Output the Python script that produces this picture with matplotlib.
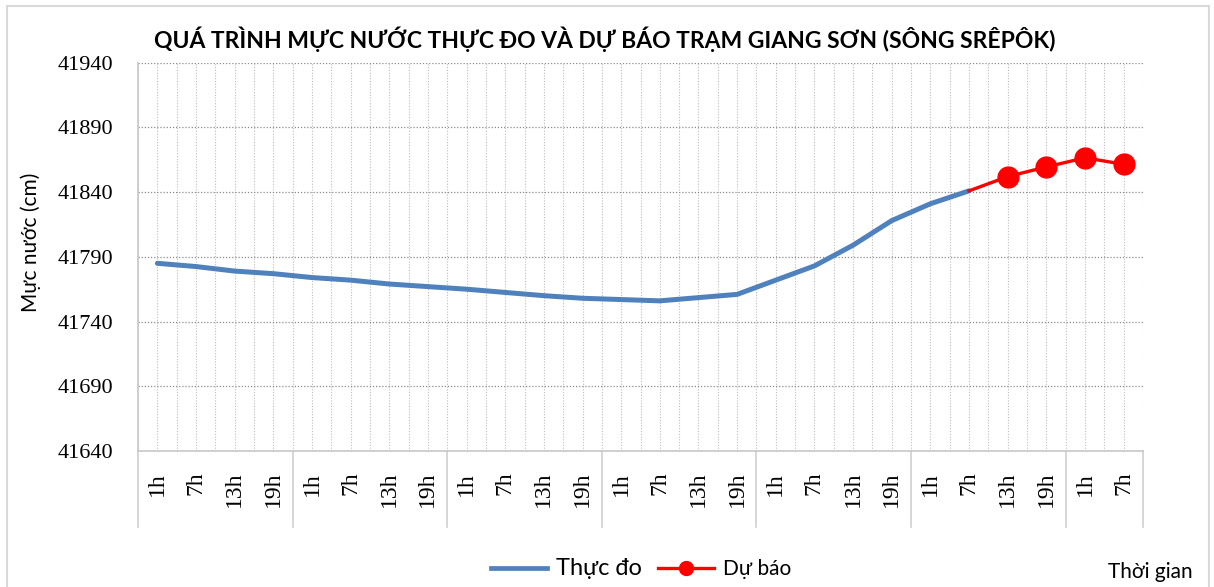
import numpy as np
import matplotlib
matplotlib.use("Agg")
import matplotlib.pyplot as plt
from matplotlib.lines import Line2D
from matplotlib.patches import Rectangle

# nhãn thời gian trên trục hoành (6 ngày + 2 mốc)
gio = ['1h', '7h', '13h', '19h'] * 6 + ['1h', '7h']

# mực nước thực đo (cm)
thuc_do = [41785, 41782.5, 41779, 41777, 41774, 41772, 41769, 41767,
           41765, 41762.5, 41760, 41758, 41757, 41756, 41758.5, 41761,
           41772, 41783, 41799, 41818, 41831, 41841]

# mực nước dự báo (bắt đầu từ điểm thực đo cuối)
du_bao = [41841, 41852, 41859.5, 41866.5, 41861.5]

y_ticks = [41640, 41690, 41740, 41790, 41840, 41890, 41940]

sans = ['Lato', 'DejaVu Sans']
serif = ['Liberation Serif', 'DejaVu Serif']

fig = plt.figure(figsize=(12.14, 5.87), dpi=100)
ax = fig.add_axes([0.1137, 0.2317, 0.8278, 0.6615])

x_td = np.arange(len(thuc_do))
x_db = np.arange(len(thuc_do) - 1, len(thuc_do) - 1 + len(du_bao))

ax.plot(x_td, thuc_do, color='#4F81BD', lw=3.6, solid_capstyle='round', zorder=3)
ax.plot(x_db, du_bao, color='#FF0000', lw=2.4, marker='o', ms=15,
        markevery=list(range(1, len(du_bao))), zorder=4)

ax.set_xlim(-0.5, len(gio) - 0.5)
ax.set_ylim(y_ticks[0], y_ticks[-1])
ax.set_yticks(y_ticks)
ax.set_yticklabels([str(v) for v in y_ticks], family=serif, fontsize=16)
ax.set_xticks(np.arange(len(gio)))
ax.set_xticks(np.arange(-0.5, len(gio)), minor=True)
ax.set_xticklabels(gio, rotation=90, family=serif, fontsize=17)
ax.tick_params(axis='both', which='both', length=0)
ax.tick_params(axis='x', pad=15)
ax.tick_params(axis='y', pad=18)

ax.grid(axis='y', ls=(0, (1, 1.5)), color='#8C8C8C', lw=0.9)
ax.grid(axis='x', which='both', ls=(0, (1, 1.5)), color='#BDBDBD', lw=0.8)
ax.set_axisbelow(True)

for s in ['top', 'right']:
    ax.spines[s].set_visible(False)
for s in ['left', 'bottom']:
    ax.spines[s].set_color('#C8C8C8')
    ax.spines[s].set_linewidth(1.2)

# vạch phân cách từng ngày dưới trục hoành
trans = ax.get_xaxis_transform()
for xs in [-0.5, 3.5, 7.5, 11.5, 15.5, 19.5, 23.5, 25.5]:
    ax.plot([xs, xs], [0, -0.195], transform=trans, color='#D0D0D0', lw=1.2, clip_on=False)

fig.text(0.4985, 0.933, 'QUÁ TRÌNH MỰC NƯỚC THỰC ĐO VÀ DỰ BÁO TRẠM GIANG SƠN (SÔNG SRÊPÔK)',
         ha='center', va='center', family=sans, fontsize=16.5, fontweight='bold')
fig.text(0.025, 0.588, 'Mực nước (cm)', rotation=90, ha='center', va='center',
         family=sans, fontsize=15)
fig.text(0.982, 0.026, 'Thời gian', ha='right', va='center', family=sans, fontsize=15)

handles = [Line2D([], [], color='#4F81BD', lw=3.4),
           Line2D([], [], color='#FF0000', lw=2.4, marker='o', ms=10)]
leg = fig.legend(handles, ['Thực đo', 'Dự báo'], loc='center', bbox_to_anchor=(0.528, 0.031),
                 ncol=2, frameon=False, handlelength=2.7, columnspacing=0.8, handletextpad=0.4,
                 prop={'family': sans, 'size': 15})
leg.get_texts()[0].set_fontsize(17)

fig.patches.append(Rectangle((0.006, -0.05), 0.99, 1.04, transform=fig.transFigure,
                             fill=False, edgecolor='#D9D9D9', lw=1.5))

fig.savefig('out.png', dpi=100)
